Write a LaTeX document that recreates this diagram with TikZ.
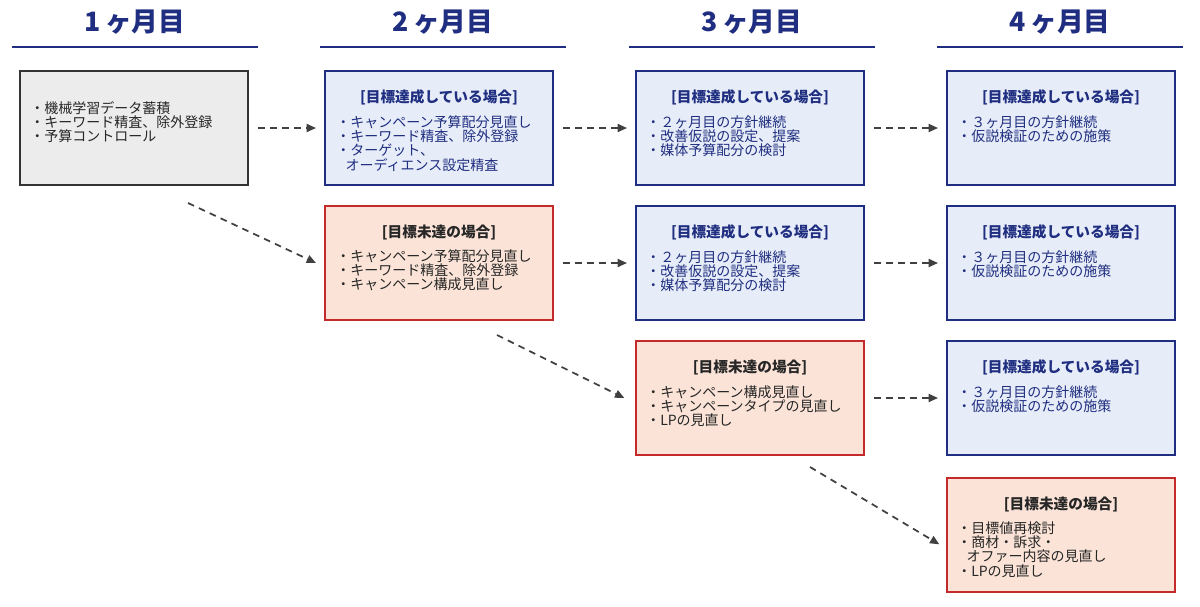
\documentclass[tikz,border=0pt]{standalone}
\usepackage{fontspec}
\setmainfont{Noto Sans CJK JP}
\usetikzlibrary{positioning, arrows.meta}
\definecolor{navy}{HTML}{1F2E80}
\definecolor{bluefill}{HTML}{E7EDF8}
\definecolor{redline}{HTML}{C42A2A}
\definecolor{redfill}{HTML}{FBE4D7}
\definecolor{grayfill}{HTML}{ECECEC}
\definecolor{arrowgray}{HTML}{404040}

\begin{document}
\begin{tikzpicture}[
    x=0.75pt, y=-0.75pt,
    box/.style={draw, line width=1.5pt, minimum width=171pt, minimum height=86pt, inner sep=0pt},
    ok/.style={box, draw=navy, fill=bluefill},
    ng/.style={box, draw=redline, fill=redfill},
    base/.style={box, draw=black!80, fill=grayfill},
    ttl/.style={font=\bfseries\fontsize{11}{12}\selectfont, inner sep=0pt},
    items/.style={font=\fontsize{10.5}{10.8}\selectfont, align=left, inner sep=0pt, anchor=north west},
    month/.style={font=\bfseries\fontsize{20}{22}\selectfont, text=navy},
    flow/.style={draw=arrowgray, line width=1.3pt, dash pattern=on 5pt off 4pt, -{Triangle[length=7pt,width=6pt]}}
  ]
  \useasboundingbox (0,0) rectangle (1200,607);

  % months
  \foreach \i/\x in {1/135, 2/443, 3/752, 4/1060} {
    \node[month] (m\i) at (\x,22) {\i\,ヶ月目};
    \draw[navy, line width=1.5pt] (\x-123,47) -- (\x+123,47);
  }

  % 1st month
  \node[base] (g1) at (134,128) {};
  \node[items, text=black!85] at (30,101) {・機械学習データ蓄積\\・キーワード精査、除外登録\\・予算コントロール};

  % 2nd month
  \node[ok] (b2) at (439,128) {};
  \node[ttl, text=navy, below=15pt of b2.north] {[目標達成している場合]};
  \node[items, text=navy] at (336,115) {・キャンペーン予算配分見直し\\・キーワード精査、除外登録\\・ターゲット、\\\ \ \ オーディエンス設定精査};
  \node[ng] (r2) at (439,263) {};
  \node[ttl, text=black!85, below=15pt of r2.north] {[目標未達の場合]};
  \node[items, text=black!85] at (336,249) {・キャンペーン予算配分見直し\\・キーワード精査、除外登録\\・キャンペーン構成見直し};

  % 3rd month
  \node[ok] (b3a) at (750,128) {};
  \node[ttl, text=navy, below=15pt of b3a.north] {[目標達成している場合]};
  \node[items, text=navy] at (646,115) {・２ヶ月目の方針継続\\・改善仮説の設定、提案\\・媒体予算配分の検討};
  \node[ok] (b3b) at (750,263) {};
  \node[ttl, text=navy, below=15pt of b3b.north] {[目標達成している場合]};
  \node[items, text=navy] at (646,250) {・２ヶ月目の方針継続\\・改善仮説の設定、提案\\・媒体予算配分の検討};
  \node[ng] (r3) at (750,398) {};
  \node[ttl, text=black!85, below=15pt of r3.north] {[目標未達の場合]};
  \node[items, text=black!85] at (646,385) {・キャンペーン構成見直し\\・キャンペーンタイプの見直し\\・LPの見直し};

  % 4th month
  \node[ok] (b4a) at (1061,128) {};
  \node[ttl, text=navy, below=15pt of b4a.north] {[目標達成している場合]};
  \node[items, text=navy] at (957,115) {・３ヶ月目の方針継続\\・仮説検証のための施策};
  \node[ok] (b4b) at (1061,263) {};
  \node[ttl, text=navy, below=15pt of b4b.north] {[目標達成している場合]};
  \node[items, text=navy] at (957,250) {・３ヶ月目の方針継続\\・仮説検証のための施策};
  \node[ok] (b4c) at (1061,398) {};
  \node[ttl, text=navy, below=15pt of b4c.north] {[目標達成している場合]};
  \node[items, text=navy] at (957,385) {・３ヶ月目の方針継続\\・仮説検証のための施策};
  \node[ng] (r4) at (1061,535) {};
  \node[ttl, text=black!85, below=15pt of r4.north] {[目標未達の場合]};
  \node[items, text=black!85] at (957,521) {・目標値再検討\\・商材・訴求・\\\ \ \ オファー内容の見直し\\・LPの見直し};

  % arrows
  \coordinate (s1) at (188,203);
  \coordinate (s2) at (497,335);
  \coordinate (s3) at (810,467);
  \draw[flow, shorten <=7pt, shorten >=6pt] (g1.east |- b2) -- (b2.west);
  \draw[flow] (s1) -- ([xshift=-6pt]r2.west);
  \draw[flow, shorten <=7pt, shorten >=6pt] (b2.east) -- (b3a.west);
  \draw[flow, shorten <=7pt, shorten >=6pt] (r2.east) -- (b3b.west);
  \draw[flow] (s2) -- ([xshift=-8pt]r3.west);
  \draw[flow, shorten <=7pt, shorten >=6pt] (b3a.east) -- (b4a.west);
  \draw[flow, shorten <=7pt, shorten >=6pt] (b3b.east) -- (b4b.west);
  \draw[flow, shorten <=7pt, shorten >=6pt] (r3.east) -- (b4c.west);
  \draw[flow] (s3) -- ([xshift=-5pt,yshift=-7pt]r4.west);
\end{tikzpicture}
\end{document}
